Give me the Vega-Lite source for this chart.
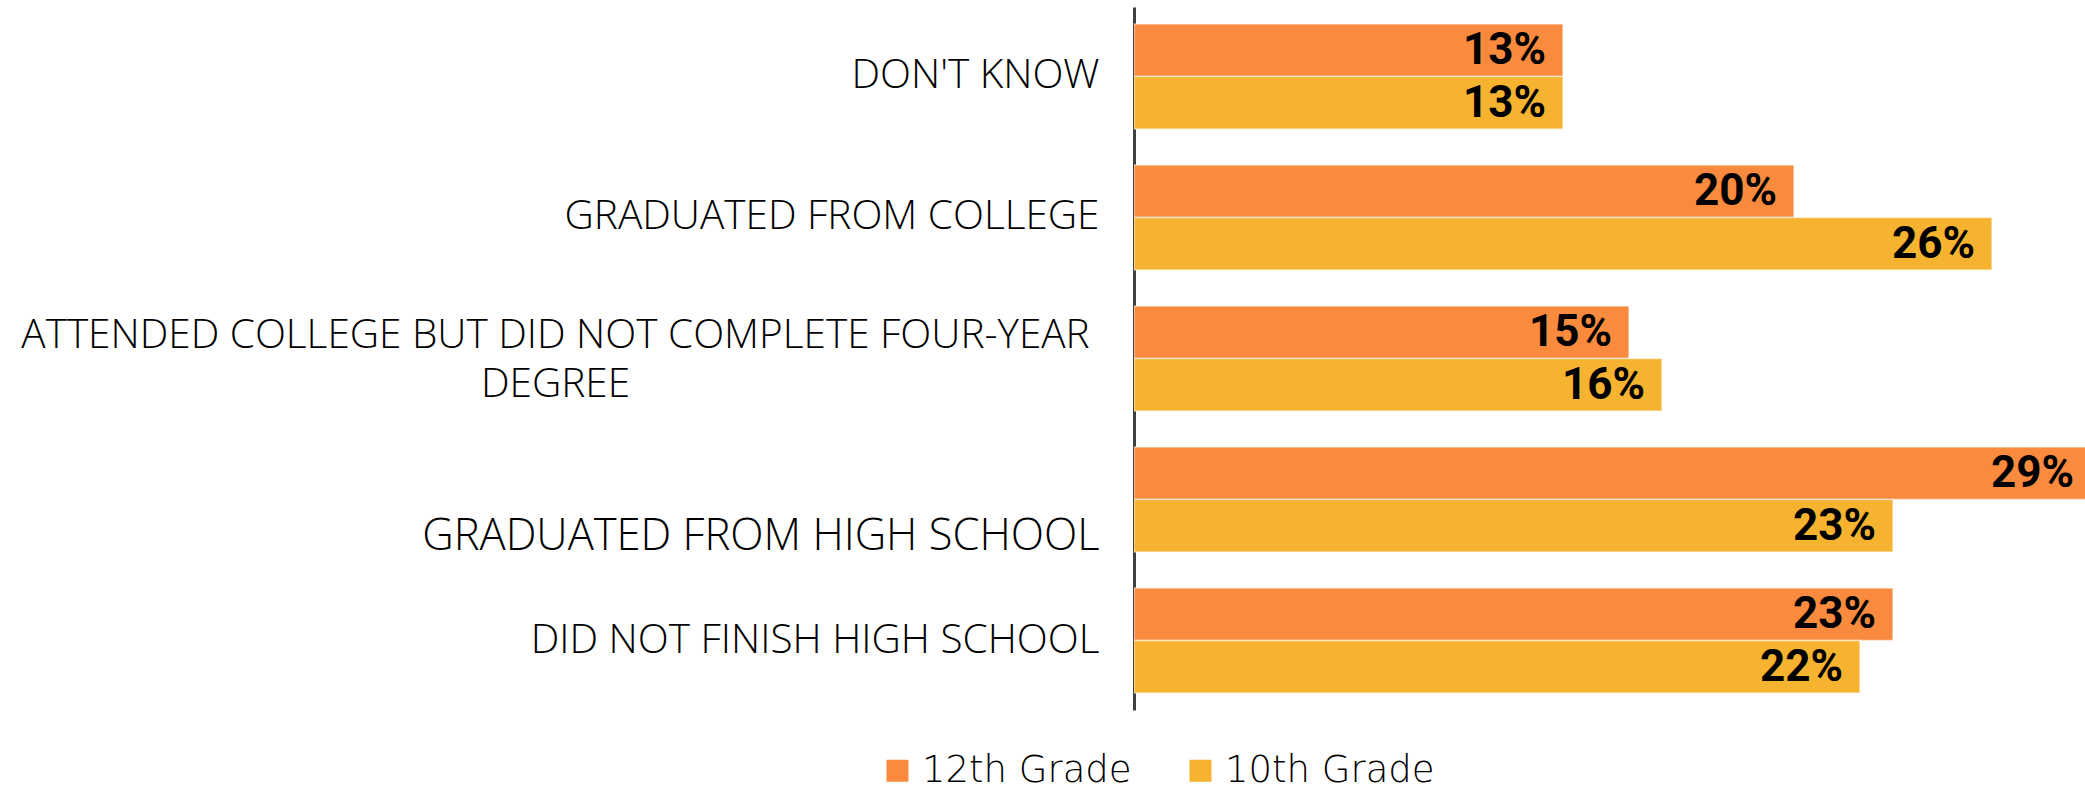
{
  "$schema": "https://vega.github.io/schema/vega-lite/v6.json",
  "autosize": "none",
  "width": 951,
  "height": 703,
  "padding": {"left": 1134, "top": 7, "right": 0, "bottom": 78},
  "background": "white",
  "config": {"view": {"stroke": null}},
  "data": {
    "values": [
      {"category": "DON'T KNOW", "grade": "12th Grade", "value": 0.13},
      {"category": "DON'T KNOW", "grade": "10th Grade", "value": 0.13},
      {"category": "GRADUATED FROM COLLEGE", "grade": "12th Grade", "value": 0.20},
      {"category": "GRADUATED FROM COLLEGE", "grade": "10th Grade", "value": 0.26},
      {"category": "ATTENDED COLLEGE BUT DID NOT COMPLETE FOUR-YEAR DEGREE", "grade": "12th Grade", "value": 0.15},
      {"category": "ATTENDED COLLEGE BUT DID NOT COMPLETE FOUR-YEAR DEGREE", "grade": "10th Grade", "value": 0.16},
      {"category": "GRADUATED FROM HIGH SCHOOL", "grade": "12th Grade", "value": 0.29},
      {"category": "GRADUATED FROM HIGH SCHOOL", "grade": "10th Grade", "value": 0.23},
      {"category": "DID NOT FINISH HIGH SCHOOL", "grade": "12th Grade", "value": 0.23},
      {"category": "DID NOT FINISH HIGH SCHOOL", "grade": "10th Grade", "value": 0.22}
    ]
  },
  "encoding": {
    "y": {
      "field": "category",
      "type": "nominal",
      "sort": null,
      "scale": {"paddingInner": 0.255, "paddingOuter": 0.12},
      "axis": {
        "title": null,
        "ticks": false,
        "tickSize": 0,
        "domainColor": "#404040",
        "domainWidth": 3,
        "labelFont": "Open Sans",
        "labelFontWeight": 300,
        "labelFontSize": {"condition": {"test": "datum.value === 'GRADUATED FROM HIGH SCHOOL'", "value": 43.5}, "value": 40.5},
        "labelColor": "#000000",
        "labelLimit": 0,
        "labelLineHeight": 49,
        "labelBaseline": "middle",
        "labelExpr": "datum.value === 'ATTENDED COLLEGE BUT DID NOT COMPLETE FOUR-YEAR DEGREE' ? ['ATTENDED COLLEGE BUT DID NOT COMPLETE FOUR-YEAR', 'DEGREE'] : datum.label",
        "labelAlign": {"condition": {"test": "datum.value === 'ATTENDED COLLEGE BUT DID NOT COMPLETE FOUR-YEAR DEGREE'", "value": "center"}, "value": "right"},
        "labelPadding": {"condition": {"test": "datum.value === 'ATTENDED COLLEGE BUT DID NOT COMPLETE FOUR-YEAR DEGREE'", "value": 579}, "value": 35},
        "labelOffset": {"condition": [
          {"test": "datum.value === 'ATTENDED COLLEGE BUT DID NOT COMPLETE FOUR-YEAR DEGREE'", "value": -23},
          {"test": "datum.value === 'GRADUATED FROM HIGH SCHOOL'", "value": 37}
        ], "value": 0}
      }
    },
    "yOffset": {
      "field": "grade",
      "type": "nominal",
      "sort": ["12th Grade", "10th Grade"],
      "scale": {"paddingInner": 0, "paddingOuter": 0}
    },
    "x": {
      "field": "value",
      "type": "quantitative",
      "scale": {"domain": [0, 0.2882], "nice": false, "zero": true},
      "axis": null
    }
  },
  "layer": [
    {
      "mark": {"type": "bar", "clip": true, "stroke": "#ffffff", "strokeOpacity": 0.55, "strokeWidth": 1.5},
      "encoding": {
        "color": {
          "field": "grade",
          "type": "nominal",
          "scale": {"domain": ["12th Grade", "10th Grade"], "range": ["#F98A3E", "#F5B32F"]},
          "legend": {
            "title": null,
            "orient": "none",
            "direction": "horizontal",
            "legendX": -255,
            "legendY": 745,
            "symbolType": "square",
            "symbolSize": 484,
            "symbolStrokeWidth": 0,
            "labelFont": "DejaVu Sans",
            "labelFontWeight": 200,
            "labelFontSize": 37,
            "labelColor": "#000000",
            "labelOffset": 6,
            "labelLimit": 0,
            "columnPadding": 50,
            "padding": 0
          }
        }
      }
    },
    {
      "mark": {"type": "text", "align": "right", "baseline": "middle", "dx": -17, "dy": 1, "font": "Roboto", "fontWeight": "bold", "fontSize": 44, "color": "#000000"},
      "encoding": {
        "text": {"field": "value", "type": "quantitative", "format": ".0%"}
      }
    }
  ]
}
